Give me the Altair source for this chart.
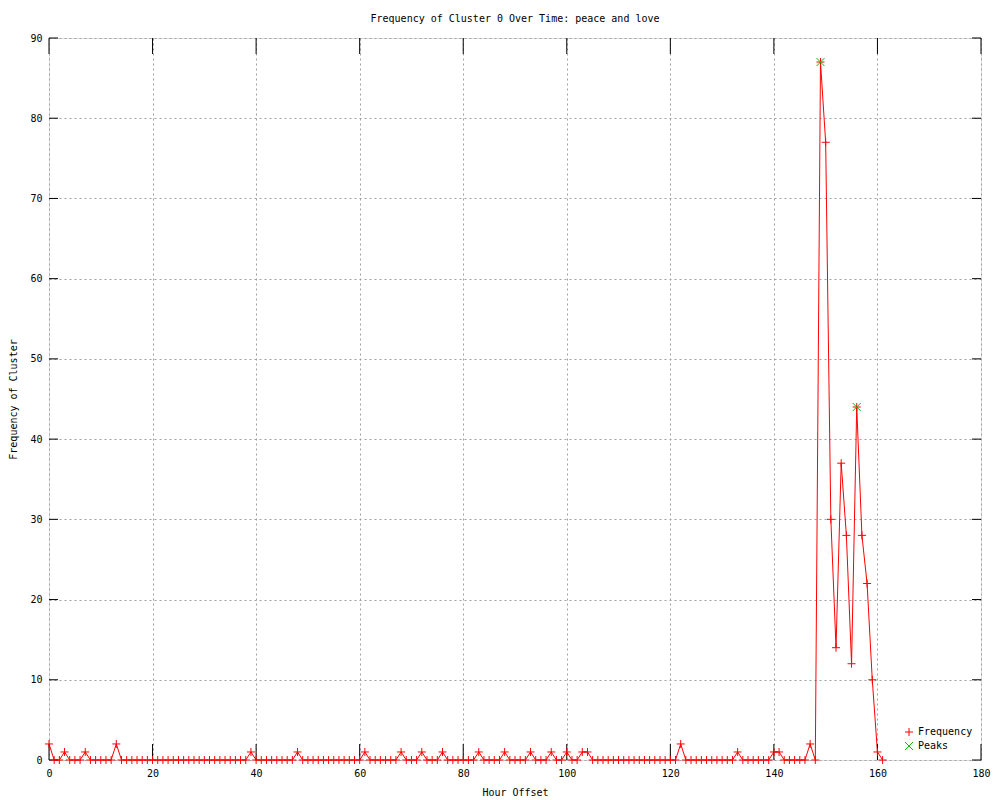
import altair as alt
import pandas as pd

# ---- data ----
hours = list(range(162))
freq = [
    2, 0, 0, 1, 0, 0, 0, 1, 0, 0,
    0, 0, 0, 2, 0, 0, 0, 0, 0, 0,
    0, 0, 0, 0, 0, 0, 0, 0, 0, 0,
    0, 0, 0, 0, 0, 0, 0, 0, 0, 1,
    0, 0, 0, 0, 0, 0, 0, 0, 1, 0,
    0, 0, 0, 0, 0, 0, 0, 0, 0, 0,
    0, 1, 0, 0, 0, 0, 0, 0, 1, 0,
    0, 0, 1, 0, 0, 0, 1, 0, 0, 0,
    0, 0, 0, 1, 0, 0, 0, 0, 1, 0,
    0, 0, 0, 1, 0, 0, 0, 1, 0, 0,
    1, 0, 0, 1, 1, 0, 0, 0, 0, 0,
    0, 0, 0, 0, 0, 0, 0, 0, 0, 0,
    0, 0, 2, 0, 0, 0, 0, 0, 0, 0,
    0, 0, 0, 1, 0, 0, 0, 0, 0, 0,
    1, 1, 0, 0, 0, 0, 0, 2, 0, 87,
    77, 30, 14, 37, 28, 12, 44, 28, 22, 10,
    1, 0,
]
peak_hours = [149, 156]
peak_values = [87, 44]
x_ticks = [0, 20, 40, 60, 80, 100, 120, 140, 160, 180]
y_ticks = [0, 10, 20, 30, 40, 50, 60, 70, 80, 90]
series_names = ["Frequency", "Peaks"]

# ---- styles ----
W, H = 932, 722
RED = "#ff0000"
GREEN = "#00c000"
GRID = "#a0a0a0"
PLUS = "M-1,0L1,0M0,-1L0,1"
CROSS = "M-1,-1L1,1M-1,1L1,-1"
FONT = "DejaVu Sans Mono"
XTICK = 16
YTICK = 9

freq_df = pd.DataFrame({"hour": hours, "freq": freq, "series": series_names[0]})
peak_df = pd.DataFrame({"hour": peak_hours, "freq": peak_values, "series": series_names[1]})
pts_df = pd.concat([freq_df, peak_df], ignore_index=True)
xt_df = pd.DataFrame({"hour": x_ticks})
yt_df = pd.DataFrame({"freq": y_ticks})

xscale = alt.Scale(domain=[0, 180], nice=False, zero=False)
yscale = alt.Scale(domain=[0, 90], nice=False)

xaxis = alt.Axis(
    values=x_ticks, format="d", ticks=False, domain=False,
    grid=True, gridColor=GRID, gridDash=[2, 3], gridWidth=1,
    labelFont=FONT, labelFontSize=10, labelColor="black", labelAngle=0,
    labelPadding=8, labelFlush=False,
    title="Hour Offset", titleFont=FONT, titleFontSize=10,
    titleFontWeight="normal", titleColor="black", titlePadding=9,
)
yaxis = alt.Axis(
    values=y_ticks, format="d", ticks=False, domain=False,
    grid=True, gridColor=GRID, gridDash=[2, 3], gridWidth=1,
    labelFont=FONT, labelFontSize=10, labelColor="black",
    labelPadding=7, labelFlush=False,
    title="Frequency of Cluster", titleFont=FONT, titleFontSize=10,
    titleFontWeight="normal", titleColor="black", titlePadding=11,
)

line = alt.Chart(freq_df).mark_line(color=RED, strokeWidth=1).encode(
    x=alt.X("hour:Q", scale=xscale, axis=xaxis),
    y=alt.Y("freq:Q", scale=yscale, axis=yaxis),
)

legend = alt.Legend(
    title=None, orient="bottom-right", offset=8,
    labelFont=FONT, labelFontSize=10, labelColor="black",
    symbolSize=64, symbolStrokeWidth=1, rowPadding=2,
)

points = alt.Chart(pts_df).mark_point(filled=False, size=64, strokeWidth=1, opacity=1).encode(
    x="hour:Q",
    y="freq:Q",
    color=alt.Color("series:N", scale=alt.Scale(domain=series_names, range=[RED, GREEN]), legend=legend),
    shape=alt.Shape("series:N", scale=alt.Scale(domain=series_names, range=[PLUS, CROSS]), legend=legend),
)

tick_b = alt.Chart(xt_df).mark_rule(color="black", strokeWidth=1).encode(
    x="hour:Q", y=alt.value(H), y2=alt.value(H - XTICK))
tick_t = alt.Chart(xt_df).mark_rule(color="black", strokeWidth=1).encode(
    x="hour:Q", y=alt.value(0), y2=alt.value(XTICK))
tick_l = alt.Chart(yt_df).mark_rule(color="black", strokeWidth=1).encode(
    y="freq:Q", x=alt.value(0), x2=alt.value(YTICK))
tick_r = alt.Chart(yt_df).mark_rule(color="black", strokeWidth=1).encode(
    y="freq:Q", x=alt.value(W), x2=alt.value(W - YTICK))

chart = alt.layer(line, tick_b, tick_t, tick_l, tick_r, points).properties(
    width=W, height=H,
    title=alt.TitleParams(
        "Frequency of Cluster 0 Over Time: peace and love",
        font=FONT, fontSize=10, fontWeight="normal", color="black",
        anchor="middle", offset=9,
    ),
    autosize=alt.AutoSizeParams(type="none"),
    padding={"left": 41, "top": 30, "right": 10, "bottom": 38},
).configure_view(stroke="black", strokeWidth=1).configure(background="white")

chart.save("out.html", embed_options={"renderer": "svg", "actions": False})
